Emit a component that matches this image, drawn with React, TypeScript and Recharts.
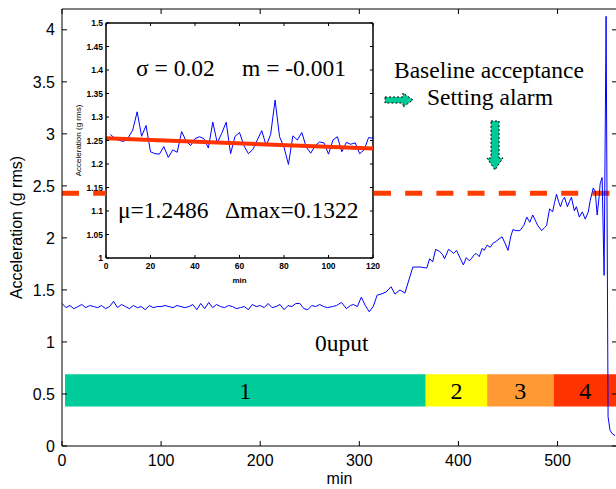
import React from 'react';
import {
  LineChart, Line, XAxis, YAxis, ReferenceLine, ReferenceArea, CartesianGrid
} from 'recharts';

// main trace, minutes vs acceleration (g rms)
const traceMin = [
  0, 4, 8, 12, 16, 20, 24, 28, 32, 36, 40, 44, 48, 52, 56, 60, 64, 68, 72, 76,
  80, 84, 88, 92, 96, 100, 104, 108, 112, 116, 120, 124, 128, 132, 136, 140, 144, 148, 152, 156,
  160, 164, 168, 172, 176, 180, 184, 188, 192, 196, 200, 204, 208, 212, 216, 220, 224, 228, 232, 236,
  240, 244, 248, 252, 256, 260, 264, 268, 273, 277, 282, 287, 291, 294, 298, 302, 306, 310, 314, 318,
  322, 327, 332, 336, 341, 346, 354, 362, 368, 371, 374, 377, 381, 384, 386, 390, 393, 395, 398, 402,
  405, 408, 411, 413, 416, 418, 421, 424, 426, 429, 432, 435, 437, 441, 444, 447, 450, 453, 455, 458,
  462, 466, 469, 472, 475, 478, 480, 484, 487, 489, 492, 495, 497, 499, 501, 503, 505, 507, 510, 512,
  514, 517, 519, 522, 525, 528, 531, 533, 536, 538, 540, 542, 543, 545, 547, 549, 551, 553, 555, 558,
];
const traceAcc = [
  1.37, 1.33, 1.35, 1.32, 1.34, 1.36, 1.33, 1.35, 1.34, 1.33, 1.35, 1.32, 1.34, 1.39, 1.33, 1.36, 1.34, 1.32, 1.35, 1.33,
  1.34, 1.31, 1.35, 1.33, 1.34, 1.34, 1.35, 1.34, 1.33, 1.35, 1.34, 1.33, 1.34, 1.36, 1.31, 1.37, 1.32, 1.38, 1.33, 1.36,
  1.34, 1.33, 1.35, 1.34, 1.32, 1.33, 1.34, 1.31, 1.36, 1.34, 1.35, 1.33, 1.37, 1.33, 1.34, 1.36, 1.31, 1.35, 1.34, 1.37,
  1.37, 1.32, 1.31, 1.35, 1.34, 1.36, 1.34, 1.33, 1.34, 1.35, 1.38, 1.32, 1.35, 1.36, 1.34, 1.43, 1.35, 1.29, 1.34, 1.45,
  1.46, 1.48, 1.53, 1.46, 1.50, 1.47, 1.72, 1.72, 1.71, 1.80, 1.77, 1.89, 1.87, 1.84, 1.80, 1.89, 1.87, 1.85, 1.88, 1.80,
  1.74, 1.81, 1.78, 1.80, 1.84, 1.85, 1.82, 1.90, 1.88, 1.93, 1.91, 1.95, 1.96, 1.99, 2.01, 1.95, 1.88, 2.02, 2.08, 2.07,
  2.07, 2.12, 2.20, 2.15, 2.22, 2.16, 2.12, 2.07, 2.10, 2.12, 2.28, 2.25, 2.34, 2.42, 2.35, 2.30, 2.36, 2.39, 2.30, 2.35,
  2.39, 2.26, 2.30, 2.20, 2.25, 2.18, 2.25, 2.36, 2.48, 2.45, 2.22, 2.40, 2.52, 2.58, 1.64, 4.13, 0.28, 0.15, 0.12, 0.10,
];

const mainXTicks = [0, 100, 200, 300, 400, 500];
const mainYTicks = [0, 0.5, 1, 1.5, 2, 2.5, 3, 3.5, 4];
const alarmLevel = 2.43;
// alarm line is hidden behind the inset between these minutes
const alarmGapStart = 44.4;
const alarmGapEnd = 314.8;

// operating stages drawn as a band
const stageLabels = ['1', '2', '3', '4'];
const stageStart = [3, 367, 429, 496];
const stageEnd = [367, 429, 496, 560];
const stageColors = ['#00CC99', '#FFFF00', '#FF9933', '#FF3300'];
const stageLow = 0.38;
const stageHigh = 0.69;

// inset: first 120 minutes
const insetMin = [
  2, 4, 6, 8, 10, 12, 14, 16, 18, 20, 22, 24, 26, 28, 30, 32, 34, 36, 38, 40,
  42, 44, 46, 48, 50, 52, 54, 56, 58, 60, 62, 64, 66, 68, 70, 72, 74, 76, 78, 80,
  82, 84, 86, 88, 90, 92, 94, 96, 98, 100, 102, 104, 106, 108, 110, 112, 114, 116, 118, 120,
];
const insetAcc = [
  1.263, 1.254, 1.250, 1.248, 1.256, 1.272, 1.311, 1.259, 1.282, 1.226, 1.222, 1.221, 1.237, 1.214, 1.230, 1.225, 1.269, 1.249, 1.239, 1.254,
  1.258, 1.254, 1.234, 1.289, 1.245, 1.265, 1.289, 1.222, 1.259, 1.267, 1.239, 1.222, 1.231, 1.251, 1.271, 1.239, 1.263, 1.336, 1.258, 1.236,
  1.199, 1.260, 1.251, 1.267, 1.236, 1.223, 1.239, 1.247, 1.245, 1.221, 1.251, 1.258, 1.226, 1.246, 1.242, 1.245, 1.222, 1.230, 1.256, 1.255,
];
// linear fit over the inset window
const fitMin = [0, 120];
const fitAcc = [1.255, 1.233];
const insetXTicks = [0, 20, 40, 60, 80, 100, 120];
const insetYTicks = [1, 1.05, 1.1, 1.15, 1.2, 1.25, 1.3, 1.35, 1.4, 1.45, 1.5];

const traceData = traceMin.map((m, i) => ({ min: m, acc: traceAcc[i] }));
const insetData = insetMin.map((m, i) => ({ min: m, acc: insetAcc[i] }));
const fitData = fitMin.map((m, i) => ({ min: m, fit: fitAcc[i] }));

const sans = '"Liberation Sans", Arial, sans-serif';
const serif = '"Liberation Serif", "Times New Roman", serif';

type TickOpts = { len: number; margin: number; size: number; weight?: string };

// MATLAB-style ticks: drawn inward from the axis line
const bottomTick = (o: TickOpts) => (p: any) => {
  const ay = p.y - o.margin;
  return (
    <g>
      <line x1={p.x} x2={p.x} y1={ay} y2={ay - o.len} stroke="#000" />
      <text x={p.x} y={p.y} dy="0.71em" textAnchor="middle" fontSize={o.size} fontFamily={sans} fontWeight={o.weight} fill="#000">
        {p.payload.value}
      </text>
    </g>
  );
};
const leftTick = (o: TickOpts) => (p: any) => {
  const ax = p.x + o.margin;
  return (
    <g>
      <line x1={ax} x2={ax + o.len} y1={p.y} y2={p.y} stroke="#000" />
      <text x={p.x} y={p.y} dy="0.355em" textAnchor="end" fontSize={o.size} fontFamily={sans} fontWeight={o.weight} fill="#000">
        {p.payload.value}
      </text>
    </g>
  );
};

// box edges (top / right) with inward ticks, drawn through the chart scales
const boxEdges = (
  xMax: number, yMax: number, xTicks: number[], yTicks: number[],
  dx: number, dy: number, width: number
) => [
  <ReferenceLine key="top" xAxisId="b" yAxisId="l" y={yMax} stroke="#000" strokeWidth={width} ifOverflow="visible" />,
  <ReferenceLine key="right" xAxisId="b" yAxisId="l" x={xMax} stroke="#000" strokeWidth={width} ifOverflow="visible" />,
  ...xTicks.map((t) => (
    <ReferenceLine key={`tt${t}`} xAxisId="b" yAxisId="l" ifOverflow="visible" stroke="#000"
      segment={[{ x: t, y: yMax }, { x: t, y: yMax - dy }]} />
  )),
  ...yTicks.map((t) => (
    <ReferenceLine key={`rt${t}`} xAxisId="b" yAxisId="l" ifOverflow="visible" stroke="#000"
      segment={[{ x: xMax, y: t }, { x: xMax - dx, y: t }]} />
  )),
];

const MainChart = () => (
  <LineChart id="mainChart" width={620} height={489} data={traceData} margin={{ top: 9, right: 3, bottom: 0, left: 0 }}>
    <XAxis
      xAxisId="b" type="number" dataKey="min" domain={[0, 560]} ticks={mainXTicks} interval={0}
      height={43} tickSize={0} tickMargin={9} tickLine={false}
      axisLine={{ stroke: '#000' }}
      tick={bottomTick({ len: 5, margin: 9, size: 16 })}
      label={{ value: 'min', position: 'insideBottom', offset: 5, fontSize: 16, fontFamily: sans, fill: '#000' }}
    />
    <YAxis
      yAxisId="l" type="number" domain={[0, 4.2]} ticks={mainYTicks} interval={0}
      width={62} tickSize={0} tickMargin={7} tickLine={false}
      axisLine={{ stroke: '#000' }}
      tick={leftTick({ len: 5, margin: 7, size: 16 })}
      label={{
        value: 'Acceleration (g rms)', angle: -90, position: 'insideLeft', offset: 16,
        fontSize: 16, fontFamily: sans, fill: '#000', style: { textAnchor: 'middle' },
      }}
    />
    {stageLabels.map((s, i) => (
      <ReferenceArea
        key={s} xAxisId="b" yAxisId="l"
        x1={stageStart[i]} x2={stageEnd[i]} y1={stageLow} y2={stageHigh}
        fill={stageColors[i]} fillOpacity={1} stroke="none" ifOverflow="visible"
        label={{ value: s, position: 'center', fontSize: 24, fontFamily: serif, fill: '#000' }}
      />
    ))}
    <ReferenceLine
      xAxisId="b" yAxisId="l" ifOverflow="visible"
      segment={[{ x: 0, y: alarmLevel }, { x: alarmGapStart, y: alarmLevel }]}
      stroke="#FF3D00" strokeWidth={5} strokeDasharray="17 14.2"
    />
    <ReferenceLine
      xAxisId="b" yAxisId="l" ifOverflow="visible"
      segment={[{ x: alarmGapEnd, y: alarmLevel }, { x: 560, y: alarmLevel }]}
      stroke="#FF3D00" strokeWidth={5} strokeDasharray="17 14.2"
    />
    {boxEdges(560, 4.2, mainXTicks, mainYTicks, 5.05, 0.048, 1)}
    <Line
      id="mainTrace" xAxisId="b" yAxisId="l" dataKey="acc" type="linear"
      stroke="#0000FF" strokeWidth={1} dot={false} activeDot={false} isAnimationActive={false}
    />
  </LineChart>
);

const InsetChart = () => (
  <LineChart id="insetChart" width={320} height={275} data={insetData} margin={{ top: 10, right: 9, bottom: 0, left: 0 }}>
    <CartesianGrid xAxisId="b" yAxisId="l" horizontal={false} vertical={false} fill="#fff" />
    <XAxis
      xAxisId="b" type="number" dataKey="min" domain={[0, 120]} ticks={insetXTicks} interval={0}
      height={30} tickSize={0} tickMargin={5} tickLine={false}
      axisLine={{ stroke: '#000', strokeWidth: 1.5 }}
      tick={bottomTick({ len: 3, margin: 5, size: 8.5, weight: 'bold' })}
      label={{ value: 'min', position: 'insideBottom', offset: 5, fontSize: 8, fontWeight: 'bold', fontFamily: sans, fill: '#000' }}
    />
    <YAxis
      yAxisId="l" type="number" domain={[1, 1.5]} ticks={insetYTicks} interval={0}
      width={44} tickSize={0} tickMargin={3} tickLine={false}
      axisLine={{ stroke: '#000', strokeWidth: 1.5 }}
      tick={leftTick({ len: 3, margin: 3, size: 8.5, weight: 'bold' })}
      label={{
        value: 'Acceleration (g rms)', angle: -90, position: 'insideLeft', offset: 16,
        fontSize: 8, fontFamily: sans, fill: '#000', style: { textAnchor: 'middle' },
      }}
    />
    {boxEdges(120, 1.5, insetXTicks, insetYTicks, 1.35, 0.0064, 1.5)}
    <Line
      id="insetTrace" xAxisId="b" yAxisId="l" dataKey="acc" type="linear"
      stroke="#0000FF" strokeWidth={1} dot={false} activeDot={false} isAnimationActive={false}
    />
    <Line
      id="insetFit" xAxisId="b" yAxisId="l" data={fitData} dataKey="fit" type="linear"
      stroke="#FF3300" strokeWidth={4} dot={false} activeDot={false} isAnimationActive={false}
    />
  </LineChart>
);

// annotation text, placed by its baseline
const Note = ({ x, y, children }: { x: number; y: number; children: React.ReactNode }) => (
  <div
    style={{
      position: 'absolute', left: x, top: y - 20, zIndex: 3, fontFamily: serif, fontSize: 23.5,
      lineHeight: '23.5px', whiteSpace: 'nowrap', color: '#000', pointerEvents: 'none',
    }}
  >
    {children}
  </div>
);

export default function App() {
  return (
    <div style={{ position: 'absolute', left: 0, top: 0, width: 616, height: 489, overflow: 'hidden', background: '#fff' }}>
      <div style={{ position: 'absolute', left: 0, top: 0, zIndex: 2, pointerEvents: 'none' }}>
        <MainChart />
      </div>
      <div style={{ position: 'absolute', left: 62, top: 13, width: 320, height: 275, zIndex: 1 }}>
        <InsetChart />
      </div>
      <Note x={136} y={77}>σ = 0.02</Note>
      <Note x={242} y={77}>m = -0.001</Note>
      <Note x={118} y={219}>μ=1.2486</Note>
      <Note x={225} y={219}>Δmax=0.1322</Note>
      <Note x={394} y={79}>Baseline acceptance</Note>
      <Note x={427} y={106}>Setting alarm</Note>
      <Note x={315} y={352}>0uput</Note>
      <svg width={32} height={18} style={{ position: 'absolute', left: 383, top: 91, zIndex: 3 }}>
        <polygon
          points="2,6 20,6 20,2 30,9 20,16 20,12 2,12"
          fill="#00CC99" stroke="#000" strokeWidth={1} strokeDasharray="2 2"
        />
      </svg>
      <svg width={20} height={53} style={{ position: 'absolute', left: 485, top: 119, zIndex: 3 }}>
        <polygon
          points="6,2 14,2 14,39 18,39 10,51 2,39 6,39"
          fill="#00CC99" stroke="#000" strokeWidth={1} strokeDasharray="2 2"
        />
      </svg>
    </div>
  );
}
